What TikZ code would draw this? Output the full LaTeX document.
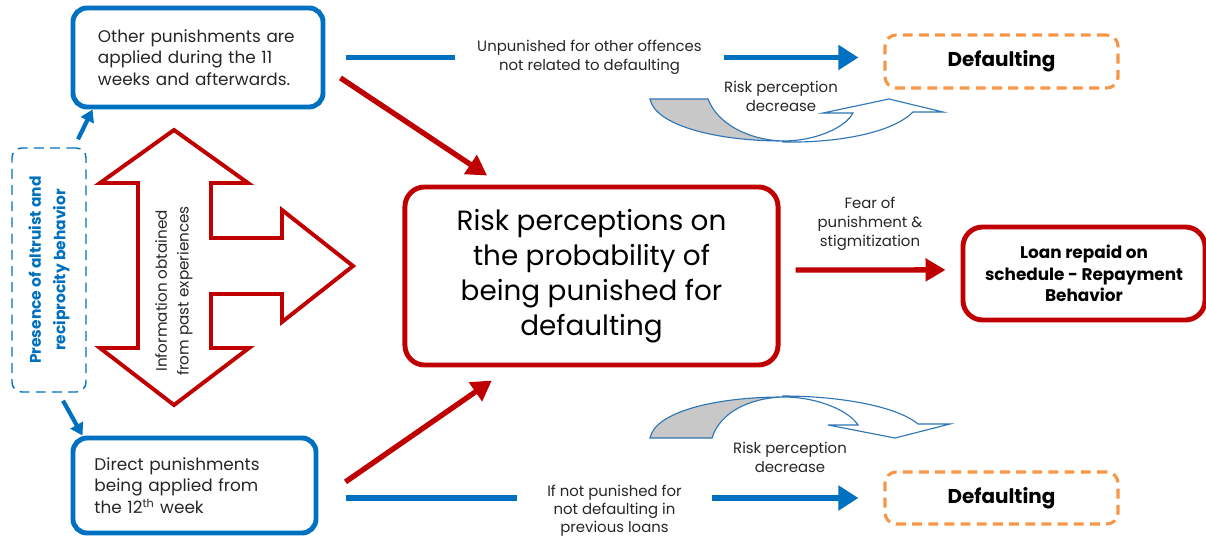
\documentclass[tikz,border=0pt]{standalone}
\usepackage{fontspec}
\setmainfont{Poppins}
\usepackage{graphicx}
\usepackage{xcolor}
\usetikzlibrary{positioning, arrows.meta, shapes.geometric}

\definecolor{boxblue}{RGB}{0,112,192}
\definecolor{darkred}{RGB}{192,0,0}
\definecolor{dashorange}{RGB}{247,150,70}
\definecolor{txtgray}{RGB}{38,38,38}
\definecolor{fillgray}{RGB}{200,200,200}
\definecolor{curveblue}{RGB}{46,117,182}

\begin{document}
\begin{tikzpicture}[
  x=0.025cm, y=-0.025cm,
  bluebox/.style={draw=boxblue, line width=3.5pt, rounded corners=10pt, align=left, text width=5cm, text=txtgray, font=\fontsize{12}{15.5}\selectfont},
  redbox/.style={draw=darkred, line width=3.5pt, rounded corners=14pt, align=center, text=black},
  dashbox/.style={draw=dashorange, line width=2.2pt, dash pattern=on 7pt off 4.5pt, rounded corners=8pt, text=black, font=\bfseries\fontsize{14.2}{16}\selectfont},
  lbl/.style={align=center, text=txtgray, inner sep=0pt, font=\fontsize{10.6}{13.5}\selectfont},
  blueline/.style={draw=boxblue, line width=3.8pt},
  bluearrow/.style={blueline, -{Triangle[length=0.5cm, width=0.6cm]}},
  redarrow/.style={draw=darkred, line width=3.8pt, -{Triangle[length=0.5cm, width=0.55cm]}},
  smallarrow/.style={draw=boxblue, line width=3pt, -{Triangle[length=0.3cm, width=0.35cm]}},
  curvearrow/.style={draw=curveblue, line width=0.8pt, fill=white}
]
\useasboundingbox (0,0) rectangle (1206,539);

% Punishment boxes on the left
\node[bluebox, minimum width=6.25cm, minimum height=2.475cm] (other) at (198,57.5) {Other punishments are\\applied during the 11\\weeks and afterwards.};
\node[bluebox, minimum width=6.075cm, minimum height=2.375cm] (direct) at (194.5,485.5) {Direct punishments\\being applied from\\the 12\textsuperscript{th} week};

% Altruism box (dashed, vertical text)
\node[draw=boxblue, line width=1pt, dash pattern=on 7pt off 4.5pt, rounded corners=7pt, minimum width=1.85cm, minimum height=6.1cm] (altru) at (49,270) {};
\node[rotate=90, align=center, text=boxblue, font=\bfseries\fontsize{11}{17.5}\selectfont] (altrulbl) at (altru.center) {Presence of altruist and\\reciprocity behavior};
\draw[smallarrow] ([xshift=0.725cm,yshift=0.2cm]altru.north) -- ([xshift=0.55cm]other.south west);
\draw[smallarrow] ([xshift=0.35cm,yshift=-0.2cm]altru.south) -- ([xshift=0.3cm]direct.north west);

% Information arrow (up, down, right)
\draw[darkred, line width=2.8pt, fill=white]
  (174,130) -- (248,183) -- (211,183) -- (211,238) -- (282,238) -- (282,210)
  -- (353,266) -- (282,322) -- (282,294) -- (211,294) -- (211,348) -- (249,348)
  -- (174,405) -- (100,348) -- (138,348) -- (138,183) -- (100,183) -- cycle;
\node[rotate=90, fill=white, inner sep=5pt, align=center, text=txtgray, font=\fontsize{10.8}{15.5}\selectfont] (info) at (174,291) {Information obtained\\from past experiences};

% Central box
\node[redbox, minimum width=9.325cm, minimum height=4.45cm, font=\fontsize{19.8}{24.8}\selectfont] (risk) at (591.5,276) {Risk perceptions on\\the probability of\\being punished for\\defaulting};

% Outcome boxes
\node[redbox, minimum width=6.05cm, minimum height=2.325cm, font=\bfseries\fontsize{12}{15.2}\selectfont] (repaid) at (1084,273.5) {Loan repaid on\\schedule - Repayment\\Behavior};
\node[dashbox, minimum width=5.825cm, minimum height=1.325cm] (deftop) at (1001.5,61.5) {Defaulting};
\node[dashbox, minimum width=5.825cm, minimum height=1.3cm] (defbot) at (1001.5,498) {Defaulting};

% Labels
\node[lbl, inner xsep=0.55cm] (unpun) at (589.5,57.5) {Unpunished for other offences\\not related to defaulting};
\node[lbl, anchor=north, inner xsep=0.75cm, font=\fontsize{10.6}{12.6}\selectfont] (notpun) at (614.5,485) {If not punished for\\not defaulting in\\previous loans};
\node[lbl] (fear) at (870,224) {Fear of\\punishment \&\\stigmitization};
\node[lbl] (decup) at (781,96) {Risk perception\\decrease};
\node[lbl] (decdown) at (790,457) {Risk perception\\decrease};

% Blue paths to defaulting
\draw[blueline] ([xshift=0.5cm]other.east) -- (unpun.west);
\draw[bluearrow, shorten >=0.625cm] (unpun.east) -- (unpun.east -| deftop.west);
\draw[blueline] ([xshift=0.675cm]direct.east |- defbot.west) -- (notpun.west |- defbot.west);
\draw[bluearrow, shorten >=0.625cm] (notpun.east |- defbot.west) -- (defbot.west);

% Red arrows into and out of the central box
\draw[redarrow] ([xshift=0.375cm,yshift=-0.51cm]other.east) -- ([xshift=-2.61cm,yshift=0.225cm]risk.north);
\draw[redarrow] ([xshift=0.675cm,yshift=0.09cm]direct.east) -- ([xshift=-2.49cm,yshift=-0.325cm]risk.south);
\draw[redarrow] ([xshift=0.375cm,yshift=0.15cm]risk.east) -- ([xshift=-0.375cm,yshift=0.09cm]repaid.west);

% Curved arrow (upper)
\draw[curvearrow, fill=fillgray] (650,99) -- (708,99) .. controls (718,125) and (750,140) .. (783,141)
  .. controls (715,141) and (655,125) .. (650,99) -- cycle;
\draw[curvearrow] (783,141) .. controls (815,141) and (845,128) .. (853,113) -- (823,113) -- (889,99)
  -- (943,112) -- (913,112) .. controls (890,135) and (830,143) .. (783,142) -- cycle;

% Curved arrow (lower)
\draw[curvearrow, fill=fillgray] (650,438) -- (712,438) .. controls (720,412) and (750,398) .. (783,397)
  .. controls (715,397) and (655,412) .. (650,438) -- cycle;
\draw[curvearrow] (783,397) .. controls (820,397) and (850,412) .. (858,425) -- (828,425) -- (895,438)
  -- (950,424) -- (918,424) .. controls (895,405) and (835,396) .. (783,396) -- cycle;

\end{tikzpicture}
\end{document}
